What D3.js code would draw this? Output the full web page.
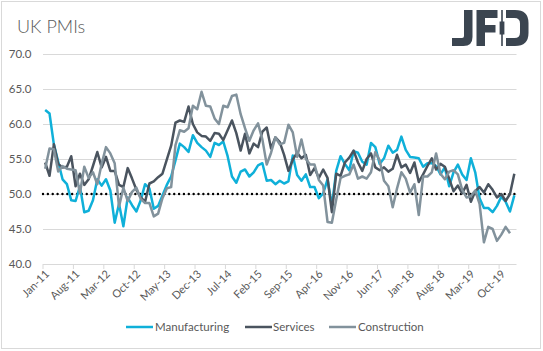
<!DOCTYPE html>
<html><head><meta charset="utf-8">
<script src="https://cdn.jsdelivr.net/npm/d3@7"></script>
<style>
html,body{margin:0;padding:0;background:#fff;}
svg{display:block;font-family:Lato,'Open Sans',sans-serif;}
</style></head><body>
<svg id="chart" width="543" height="351"></svg>
<script>
const categories = [
"Jan-11","Feb-11","Mar-11","Apr-11","May-11","Jun-11","Jul-11","Aug-11","Sep-11","Oct-11","Nov-11","Dec-11",
"Jan-12","Feb-12","Mar-12","Apr-12","May-12","Jun-12","Jul-12","Aug-12","Sep-12","Oct-12","Nov-12","Dec-12",
"Jan-13","Feb-13","Mar-13","Apr-13","May-13","Jun-13","Jul-13","Aug-13","Sep-13","Oct-13","Nov-13","Dec-13",
"Jan-14","Feb-14","Mar-14","Apr-14","May-14","Jun-14","Jul-14","Aug-14","Sep-14","Oct-14","Nov-14","Dec-14",
"Jan-15","Feb-15","Mar-15","Apr-15","May-15","Jun-15","Jul-15","Aug-15","Sep-15","Oct-15","Nov-15","Dec-15",
"Jan-16","Feb-16","Mar-16","Apr-16","May-16","Jun-16","Jul-16","Aug-16","Sep-16","Oct-16","Nov-16","Dec-16",
"Jan-17","Feb-17","Mar-17","Apr-17","May-17","Jun-17","Jul-17","Aug-17","Sep-17","Oct-17","Nov-17","Dec-17",
"Jan-18","Feb-18","Mar-18","Apr-18","May-18","Jun-18","Jul-18","Aug-18","Sep-18","Oct-18","Nov-18","Dec-18",
"Jan-19","Feb-19","Mar-19","Apr-19","May-19","Jun-19","Jul-19","Aug-19","Sep-19","Oct-19","Nov-19","Dec-19",
"Jan-20"];
const tickLabels = ["Jan-11","Aug-11","Mar-12","Oct-12","May-13","Dec-13","Jul-14","Feb-15","Sep-15","Apr-16","Nov-16","Jun-17","Jan-18","Aug-18","Mar-19","Oct-19"];

const manufacturing = [
62.0,61.5,57.1,54.6,52.1,51.4,49.1,49.0,51.1,47.4,47.6,49.1,
52.1,51.2,52.1,50.5,45.9,48.6,45.4,49.5,48.4,47.5,49.1,51.4,
50.8,47.9,48.3,49.8,51.3,52.5,54.8,57.2,56.7,56.0,58.4,57.3,
56.7,56.2,55.3,57.3,57.0,57.5,55.4,52.5,51.6,53.2,53.5,52.5,
53.1,54.1,54.4,51.9,52.0,51.4,51.9,51.5,51.8,55.5,52.7,51.9,
52.8,51.0,51.0,49.4,50.1,52.1,48.3,53.3,55.4,54.3,53.4,56.1,
55.9,54.6,54.2,57.3,56.7,54.3,55.1,56.9,55.9,56.3,58.2,56.3,
55.3,55.2,55.1,53.9,54.4,54.4,54.0,52.8,53.8,51.1,53.1,54.2,
52.8,52.0,55.1,53.1,49.4,48.0,48.0,47.4,48.3,49.6,48.9,47.5,
49.8];
const services = [
54.5,52.6,57.1,54.3,53.8,53.9,55.4,51.1,52.9,51.3,52.1,54.0,
56.0,53.8,55.3,53.3,53.3,51.3,51.0,53.7,52.2,50.6,49.5,48.9,
51.5,51.8,52.4,52.9,54.9,56.9,60.2,60.5,60.3,62.5,60.0,58.8,
58.3,58.2,57.6,58.7,58.6,57.7,59.1,60.5,58.7,56.2,58.6,55.8,
57.2,56.7,58.9,59.5,56.5,58.1,57.4,55.6,53.3,54.9,55.9,55.1,
55.6,52.7,53.7,52.3,53.5,52.3,47.4,52.9,52.6,54.5,55.2,56.2,
54.5,53.3,55.0,55.8,53.8,53.4,53.8,53.2,53.6,55.6,53.8,54.2,
53.0,54.5,51.7,52.8,54.0,55.1,53.5,54.3,53.9,52.2,50.4,51.2,
50.1,51.3,48.9,50.4,51.0,50.2,51.4,50.6,49.5,50.0,49.0,50.0,
52.9];
const construction = [
53.6,56.5,56.4,53.2,54.0,53.6,53.5,53.4,50.1,53.9,52.3,53.1,
51.4,54.3,56.7,55.8,54.4,48.2,50.9,49.0,50.3,50.9,49.3,48.7,
48.7,46.8,47.2,49.4,50.8,51.0,57.0,59.1,58.9,59.4,62.6,62.1,
64.6,62.6,62.5,60.8,60.0,62.6,62.4,64.0,64.2,61.4,59.4,57.6,
59.1,60.1,57.8,54.2,55.9,58.1,57.1,57.3,59.9,58.8,55.3,57.8,
55.0,54.2,54.2,52.0,51.2,46.0,45.9,49.2,52.3,52.6,52.8,54.2,
52.2,52.5,52.2,53.1,56.0,54.8,51.9,51.1,48.1,50.8,53.1,52.2,
50.2,51.4,47.0,52.5,52.5,53.1,55.8,52.9,52.1,53.2,53.4,52.8,
50.6,49.5,49.7,50.5,48.6,43.1,45.3,45.0,43.3,44.2,45.3,44.4];

const yTicks = [40,45,50,55,60,65,70];
const seriesNames = ["Manufacturing","Services","Construction"];
const seriesColors = ["#0fb0d9","#4a545f","#82929c"];
const threshold = 50;

const svg = d3.select("#chart");
const textColor = "#595959", gridColor = "#d9d9d9";

// frame
svg.append("rect").attr("x",1.5).attr("y",1.5).attr("width",539).attr("height",347)
  .attr("fill","#fff").attr("stroke",gridColor).attr("stroke-width",1);

// title
svg.append("text").attr("x",17).attr("y",33).attr("fill",textColor)
  .attr("font-size",18).attr("font-weight",300).text("UK PMIs");

// logo
const logo = svg.append("g").attr("fill","#3b4550");
logo.append("path").attr("d","M464,10 H472.5 V37 Q472.5,46 463.5,46 H452 V38 H462 Q464,38 464,36 Z");
logo.append("path").attr("d","M476.5,10 H497.5 V18 H485 V25 H495.5 V32.5 H485 V46 H476.5 Z");
logo.append("rect").attr("x",501.2).attr("y",10).attr("width",1.6).attr("height",36);
logo.append("rect").attr("x",499.6).attr("y",21.5).attr("width",4.8).attr("height",13);
logo.append("path").attr("d","M506,10 H515 Q528.5,10 528.5,23 V33 Q528.5,46 515,46 H506 V38 H514.5 Q520,38 520,32.5 V23.5 Q520,18 514.5,18 H506 Z");

const x = d3.scaleBand().domain(categories).range([43,516.5]).paddingInner(0).paddingOuter(0);
const cx = c => x(c) + x.bandwidth()/2;
const y = d3.scaleLinear().domain([40,70]).range([264,54]);

// y axis + gridlines
const yAxis = svg.append("g").attr("transform","translate(43,0)")
  .call(d3.axisLeft(y).tickValues(yTicks).tickSize(-(516.5-43)).tickPadding(11.5).tickFormat(d3.format(".1f")));
yAxis.select(".domain").remove();
yAxis.selectAll(".tick line").attr("stroke",gridColor).attr("stroke-width",1);
yAxis.selectAll(".tick text").attr("fill",textColor).attr("font-size",11.5)
  .attr("font-family","Lato,'Open Sans',sans-serif");

// x tick marks at category boundaries
const tickCats = categories.filter(c => tickLabels.includes(c));
svg.append("g").selectAll("line").data(tickCats).join("line")
  .attr("x1",d=>x(d)).attr("x2",d=>x(d)).attr("y1",264).attr("y2",269)
  .attr("stroke",gridColor).attr("stroke-width",1);

// x labels
const xAxis = svg.append("g").attr("transform","translate(0,264)")
  .call(d3.axisBottom(x).tickValues(tickCats).tickSize(0).tickPadding(0));
xAxis.select(".domain").remove();
xAxis.selectAll(".tick text").attr("fill",textColor).attr("font-size",11)
  .attr("font-family","Lato,'Open Sans',sans-serif")
  .attr("text-anchor","end").attr("y",0).attr("dy","0.35em")
  .attr("transform","translate(2,8) rotate(-45)");

// threshold dotted line
svg.append("line").attr("x1",43).attr("x2",516.5).attr("y1",y(threshold)).attr("y2",y(threshold))
  .attr("stroke","#000").attr("stroke-width",2.4).attr("stroke-linecap","round")
  .attr("stroke-dasharray","0.01 4.85");

// series lines
const seriesData = [manufacturing, services, construction];
const line = d3.line().x((d,i)=>cx(categories[i])).y(d=>y(d)).defined(d=>d!=null);
seriesData.forEach((vals,k)=>{
  svg.append("path").datum(vals).attr("d",line).attr("fill","none")
    .attr("stroke",seriesColors[k]).attr("stroke-width",2.5).attr("stroke-linejoin","round");
});

// legend
const legendLineX = [126,245,329];
const legendTextX = [155,273,358];
const legendY = 327;
const lg = svg.append("g");
seriesNames.forEach((name,k)=>{
  lg.append("line").attr("x1",legendLineX[k]).attr("x2",legendLineX[k]+27)
    .attr("y1",legendY).attr("y2",legendY).attr("stroke",seriesColors[k]).attr("stroke-width",2.5);
  lg.append("text").attr("x",legendTextX[k]).attr("y",legendY).attr("dy","0.35em")
    .attr("fill",textColor).attr("font-size",11.5).text(name);
});
</script>
</body></html>
